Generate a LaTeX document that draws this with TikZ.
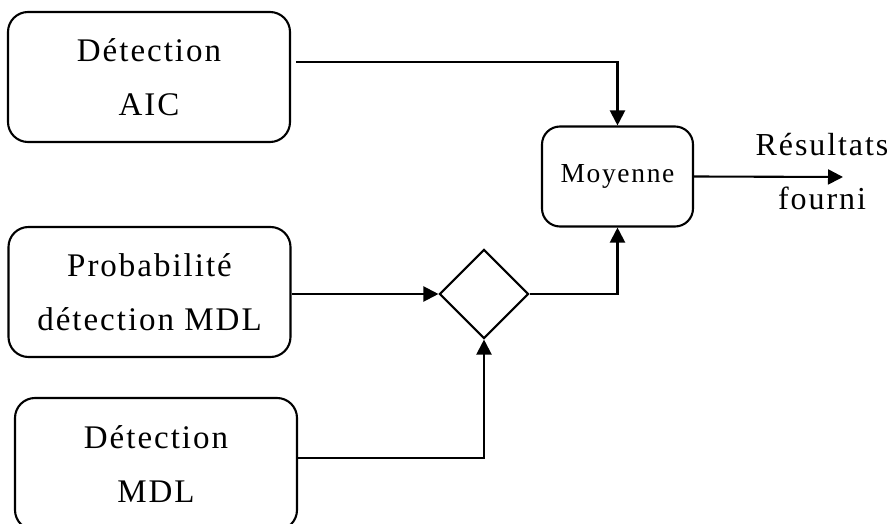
\documentclass[tikz,border=0pt]{standalone}
\usepackage{fontspec}
\setmainfont{Liberation Serif}[LetterSpace=6]
\usetikzlibrary{shapes.geometric,arrows.meta}
\begin{document}
\begin{tikzpicture}[x=1pt,y=-1pt,
  blockbox/.style={draw,line width=2.1pt,rounded corners=20pt,
    minimum width=282pt,minimum height=130pt,inner sep=0pt,
    align=center,font=\fontsize{33}{54}\selectfont},
  avgbox/.style={draw,line width=2.1pt,rounded corners=18pt,
    minimum width=151pt,minimum height=100pt,inner sep=0pt,
    font=\fontsize{27.5}{32}\selectfont},
  joinbox/.style={draw,line width=2.1pt,diamond,minimum size=89pt,inner sep=0pt},
  flow/.style={line width=2.1pt,-{Triangle[length=15pt,width=15pt]}},
  outlabel/.style={anchor=base,inner sep=0pt,font=\fontsize{32}{38}\selectfont}]
\useasboundingbox (0,0) rectangle (895,524);

% input blocks
\node[blockbox] (aic) at (149,77) {Détection\\AIC};
\node[blockbox] (prob) at (149.5,292) {Probabilité\\détection MDL};
\node[blockbox,minimum height=132pt] (mdl) at (156,464) {Détection\\MDL};

% combination stage
\node[joinbox] (join) at (484,294) {};
\node[avgbox] (avg) at (617.5,176.5) {Moyenne};

% output label
\coordinate (out) at (843,177);
\node[outlabel] (res) at (822,156) {Résultats};
\node[outlabel] (fourni) at (822,210) {fourni};

% connectors
\draw[flow] ([xshift=5pt,yshift=15pt]aic.east) -| (avg.north);
\draw[flow] (prob.east |- join.west) -- (join.west);
\draw[flow] (join.east) -| (avg.south);
\draw[flow] ([yshift=6pt]mdl.east) -| (join.south);
\draw[flow] (avg.east) -- (out);
\end{tikzpicture}
\end{document}
